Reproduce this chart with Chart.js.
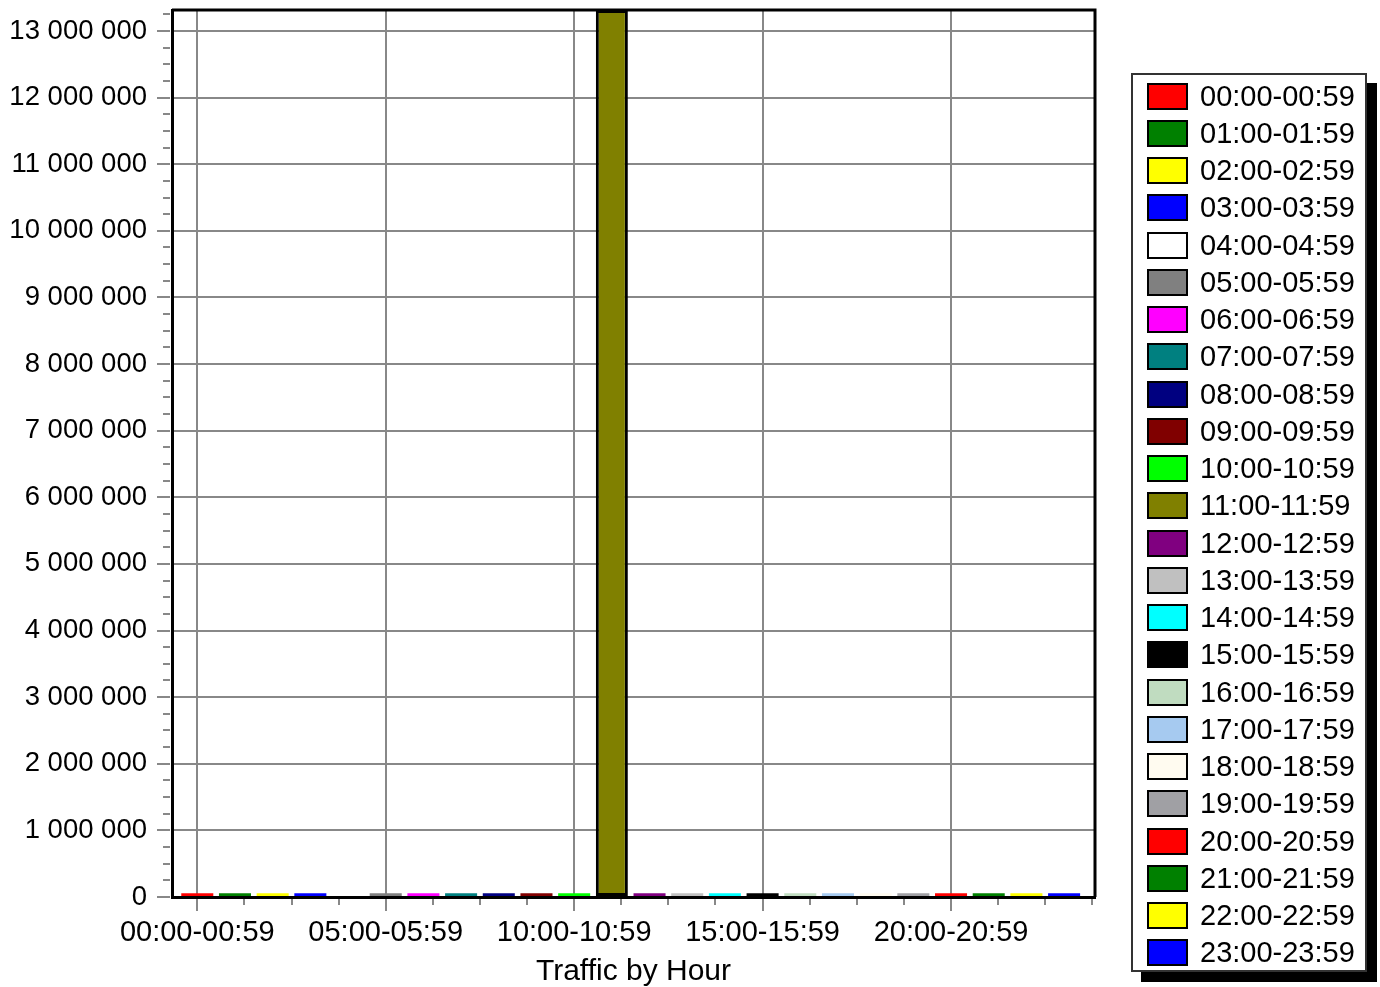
<!DOCTYPE html>
<html>
<head>
<meta charset="utf-8">
<script src="https://cdn.jsdelivr.net/npm/chart.js@4/dist/chart.umd.min.js"></script>
<style>
  html, body { margin: 0; padding: 0; background: #fff; }
  #wrap { position: relative; width: 1380px; height: 987px; }
  #legend {
    position: absolute; left: 1131px; top: 73px; width: 232px; height: 895px;
    border: 2px solid #333; background: #fff; box-shadow: 10px 10px 0 #000;
    font-family: "Liberation Sans", Arial, sans-serif; font-size: 29px; color: #000;
    box-sizing: content-box;
  }
  .row { position: absolute; left: 14px; height: 28px; display: flex; align-items: center; white-space: nowrap; }
  .sw { width: 37px; height: 23px; border: 2px solid #000; margin-right: 12px; flex: none; }
</style>
</head>
<body>
<div id="wrap">
  <canvas id="chart" width="1380" height="987"></canvas>
  <div id="legend"></div>
</div>
<script>
// hours of the day and bytes per hour
const hourLabels = [
  "00:00-00:59", "01:00-01:59", "02:00-02:59", "03:00-03:59", "04:00-04:59", "05:00-05:59",
  "06:00-06:59", "07:00-07:59", "08:00-08:59", "09:00-09:59", "10:00-10:59", "11:00-11:59",
  "12:00-12:59", "13:00-13:59", "14:00-14:59", "15:00-15:59", "16:00-16:59", "17:00-17:59",
  "18:00-18:59", "19:00-19:59", "20:00-20:59", "21:00-21:59", "22:00-22:59", "23:00-23:59"
];
const trafficValues = [
  55000, 55000, 55000, 55000, 55000, 55000,
  55000, 55000, 55000, 55000, 55000, 13315000,
  55000, 55000, 55000, 55000, 55000, 55000,
  55000, 55000, 55000, 55000, 55000, 55000
];
const hourColors = [
  "#ff0000", "#008000", "#ffff00", "#0000ff", "#ffffff", "#808080",
  "#ff00ff", "#008080", "#000080", "#800000", "#00ff00", "#808000",
  "#800080", "#c0c0c0", "#00ffff", "#000000", "#c0dcc0", "#a6caf0",
  "#fffbf0", "#a0a0a4", "#ff0000", "#008000", "#ffff00", "#0000ff"
];
const yMax = 13315000;
const yStep = 250000;
const yLabelStep = 1000000;
const xStep = 1.25;
const xLabelStep = 5;

const GRID = "#888888";
const FONT = '"Liberation Sans", Arial, sans-serif';

function spaced(n) {
  return String(n).replace(/\B(?=(\d{3})+(?!\d))/g, " ");
}
function isMajorY(v) { return Math.abs(v % yLabelStep) < 1; }
function isMajorX(v) { return Math.abs(v % xLabelStep) < 1e-6; }

// small tick marks outside the plot, plus the top/right frame
const frameAndTicks = {
  id: "frameAndTicks",
  afterDatasetsDraw(chart) {
    const ctx = chart.ctx;
    const a = chart.chartArea;
    const xs = chart.scales.x, ys = chart.scales.y;
    ctx.save();
    ctx.strokeStyle = GRID;
    ctx.lineWidth = 2;
    ys.ticks.forEach(t => {
      const y = Math.round(ys.getPixelForValue(t.value));
      const len = isMajorY(t.value) ? 15 : 9;
      ctx.beginPath();
      ctx.moveTo(a.left - len, y);
      ctx.lineTo(a.left - 2, y);
      ctx.stroke();
    });
    xs.ticks.forEach(t => {
      const x = Math.round(xs.getPixelForValue(t.value));
      const len = isMajorX(t.value) ? 14 : 8;
      ctx.beginPath();
      ctx.moveTo(x, a.bottom + 2);
      ctx.lineTo(x, a.bottom + len);
      ctx.stroke();
    });
    ctx.strokeStyle = "#000";
    ctx.lineWidth = 3;
    ctx.beginPath();
    ctx.moveTo(a.left, a.top);
    ctx.lineTo(a.right, a.top);
    ctx.lineTo(a.right, a.bottom);
    ctx.stroke();
    ctx.restore();
  }
};

const points = trafficValues.map((v, i) => ({ x: i, y: v }));

new Chart(document.getElementById("chart"), {
  type: "bar",
  data: {
    datasets: [{
      data: points,
      backgroundColor: hourColors,
      borderColor: "#000",
      borderWidth: ctx => (ctx.raw && ctx.raw.y > 200000 ? 3 : 0),
      borderSkipped: false,
      barPercentage: 0.85,
      categoryPercentage: 1.0
    }]
  },
  options: {
    responsive: false,
    animation: false,
    devicePixelRatio: 1,
    layout: { padding: { left: 0, top: 10, right: 285, bottom: 0 } },
    plugins: { legend: { display: false }, tooltip: { enabled: false } },
    scales: {
      x: {
        type: "linear",
        min: -0.671,
        max: 23.82,
        offset: false,
        afterFit: s => { s.height = 90; s.paddingLeft = 0; s.paddingRight = 0; },
        afterBuildTicks: s => {
          const t = [];
          for (let v = 0; v <= 23.8; v += xStep) t.push({ value: v });
          s.ticks = t;
        },
        grid: {
          offset: false,
          drawTicks: false,
          lineWidth: 2,
          color: c => (c.tick && isMajorX(c.tick.value) ? GRID : "rgba(0,0,0,0)")
        },
        border: { display: true, color: "#000", width: 3 },
        ticks: {
          autoSkip: false,
          maxRotation: 0,
          padding: 19,
          color: "#000",
          font: { family: FONT, size: 29 },
          callback: v => (isMajorX(v) ? hourLabels[Math.round(v)] : "")
        },
        title: {
          display: true,
          text: "Traffic by Hour",
          color: "#000",
          font: { family: FONT, size: 30 },
          padding: { top: 0, bottom: -3 }
        }
      },
      y: {
        min: 0,
        max: yMax,
        afterFit: s => { s.width = 172; s.paddingTop = 0; s.paddingBottom = 0; },
        afterBuildTicks: s => {
          const t = [];
          for (let v = 0; v <= yMax; v += yStep) t.push({ value: v });
          s.ticks = t;
        },
        grid: {
          drawTicks: false,
          lineWidth: 2,
          color: c => (c.tick && isMajorY(c.tick.value) ? GRID : "rgba(0,0,0,0)")
        },
        border: { display: true, color: "#000", width: 3 },
        ticks: {
          autoSkip: false,
          padding: 25,
          color: "#000",
          font: { family: FONT, size: 27.5 },
          callback: v => (isMajorY(v) ? spaced(v) : "")
        }
      }
    }
  },
  plugins: [frameAndTicks]
});

// legend box on the right
const legend = document.getElementById("legend");
hourLabels.forEach((label, i) => {
  const row = document.createElement("div");
  row.className = "row";
  row.style.top = (7 + i * 37.26) + "px";
  row.innerHTML = `<div class="sw" style="background:${hourColors[i]}"></div><span>${label}</span>`;
  legend.appendChild(row);
});
</script>
</body>
</html>
